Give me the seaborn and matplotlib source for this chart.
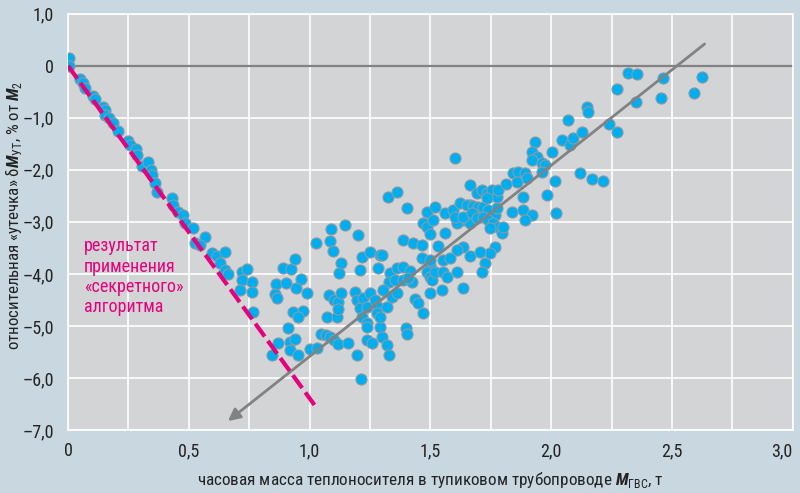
import matplotlib
matplotlib.use("Agg")
import matplotlib.pyplot as plt
import seaborn as sns
import pandas as pd
from matplotlib import font_manager
from matplotlib.ticker import FixedLocator, FixedFormatter, MultipleLocator

# points along the descending branch (before the "secret" correction)
mass_left = [0.004, 0.004, 0.050, 0.062, 0.070, 0.103, 0.112, 0.145, 0.153, 0.153,
             0.170, 0.186, 0.207, 0.248, 0.257, 0.281, 0.285, 0.306, 0.331, 0.343,
             0.348, 0.360, 0.368, 0.430, 0.434, 0.455, 0.476, 0.484, 0.517, 0.525,
             0.567, 0.546, 0.596, 0.616, 0.650, 0.629, 0.650, 0.720, 0.741, 0.720,
             0.761, 0.712, 0.761, 0.662, 0.765]
leak_left = [0.15, 0.00, -0.25, -0.33, -0.42, -0.58, -0.63, -0.79, -0.85, -0.94,
             -1.00, -1.10, -1.25, -1.44, -1.52, -1.60, -1.71, -1.92, -1.85, -2.00,
             -2.10, -2.25, -2.42, -2.54, -2.67, -2.81, -2.87, -3.02, -3.12, -3.40,
             -3.29, -3.44, -3.60, -3.65, -3.58, -3.79, -3.92, -3.96, -3.90, -4.12,
             -4.15, -4.31, -4.35, -4.00, -4.73]

# main cloud
mass_cloud = [0.861, 0.856, 0.865, 0.890, 0.923, 0.939, 0.902, 0.964, 0.943, 0.989,
              0.931, 0.972, 0.952, 0.910, 0.869, 0.844, 0.918, 0.939, 0.918, 0.952,
              1.001, 1.030, 1.047, 1.067, 1.084, 1.101, 1.117, 1.158, 1.196, 1.212,
              1.026, 1.084, 1.096, 1.088, 1.146, 1.200, 1.324, 1.361, 1.403, 1.130,
              1.121, 1.080, 1.101, 1.117, 1.130, 1.072, 1.113, 1.117, 1.187, 1.196,
              1.208, 1.216, 1.216, 1.249, 1.291, 1.208, 1.283, 1.220, 1.237, 1.249,
              1.270, 1.283, 1.278, 1.237, 1.237, 1.291, 1.299, 1.320, 1.328, 1.237,
              1.258, 1.332, 1.361, 1.386, 1.415, 1.328, 1.353, 1.386, 1.423, 1.303,
              1.340, 1.361, 1.320, 1.291, 1.398, 1.403, 1.436, 1.448, 1.469, 1.498,
              1.386, 1.427, 1.465, 1.465, 1.498, 1.485, 1.518, 1.469, 1.485, 1.498,
              1.560, 1.560, 1.531, 1.485, 1.498, 1.506, 1.518, 1.551, 1.551, 1.580,
              1.568, 1.609, 1.634, 1.663, 1.634, 1.593, 1.622, 1.663, 1.692, 1.663,
              1.692, 1.634, 1.609, 1.663, 1.601, 1.299, 1.407, 1.498, 1.547, 1.510,
              1.601, 1.651, 1.676, 1.696, 1.717, 1.738, 1.767, 1.775, 1.634, 1.671,
              1.692, 1.717, 1.738, 1.758, 1.779, 1.746, 1.796, 1.800, 1.767, 1.746,
              1.725, 1.713, 1.705, 1.609, 1.713, 1.734, 1.754, 1.775, 1.779, 1.734,
              1.882, 1.982, 1.837, 1.882, 1.920, 1.891, 2.019, 1.932, 1.920, 1.940,
              1.920, 1.961, 2.002, 1.974, 1.961, 1.841, 1.862, 1.891, 1.858, 1.899,
              1.812, 2.015, 2.118, 2.168, 2.213, 2.044, 2.077, 2.089, 2.127, 2.069,
              2.238, 2.271, 2.317, 2.354, 2.462, 2.623, 2.271, 2.350, 2.453, 2.590,
              2.147, 2.151]
leak_cloud = [-4.19, -4.38, -4.46, -3.88, -3.90, -3.71, -4.17, -4.10, -4.27, -4.37,
              -4.73, -4.71, -4.83, -5.04, -5.33, -5.56, -5.31, -5.25, -5.46, -5.56,
              -5.44, -5.42, -5.15, -5.17, -5.21, -5.27, -5.35, -5.33, -5.56, -6.02,
              -3.40, -3.37, -3.56, -3.13, -3.06, -3.25, -2.52, -2.42, -2.73, -3.79,
              -3.98, -4.40, -4.50, -4.54, -4.37, -4.83, -4.83, -4.67, -4.35, -4.50,
              -4.65, -4.83, -3.67, -3.58, -3.63, -3.92, -3.88, -4.46, -4.63, -4.37,
              -4.50, -4.63, -4.75, -4.94, -5.02, -5.02, -5.21, -5.37, -5.56, -5.27,
              -5.33, -3.98, -3.88, -3.87, -3.94, -4.15, -4.12, -4.12, -4.15, -4.31,
              -4.44, -4.37, -4.63, -4.83, -5.04, -5.15, -4.48, -4.56, -4.75, -4.37,
              -3.35, -3.40, -3.44, -3.69, -3.83, -2.81, -2.71, -3.02, -3.10, -3.23,
              -2.83, -3.21, -3.46, -3.96, -4.06, -4.12, -3.96, -3.96, -3.73, -3.69,
              -4.06, -3.96, -3.48, -3.65, -4.27, -2.77, -2.63, -2.67, -2.81, -2.29,
              -2.44, -2.96, -3.02, -3.02, -1.77, -3.63, -4.08, -3.73, -4.31, -2.96,
              -2.90, -2.67, -2.69, -2.71, -2.71, -2.77, -2.87, -2.73, -2.90, -2.83,
              -2.92, -2.90, -2.96, -3.02, -3.10, -3.12, -3.21, -3.10, -3.48, -3.60,
              -3.79, -3.96, -3.58, -3.54, -2.38, -2.44, -2.38, -2.52, -2.38, -2.54,
              -2.52, -2.48, -2.81, -2.77, -2.87, -2.96, -2.83, -1.46, -1.65, -1.75,
              -1.81, -1.87, -1.65, -1.90, -2.04, -2.06, -2.04, -2.06, -2.23, -2.15,
              -2.27, -2.21, -2.06, -2.17, -2.21, -1.42, -1.52, -1.38, -1.27, -1.04,
              -1.12, -1.27, -0.13, -0.15, -0.23, -0.21, -0.44, -0.69, -0.62, -0.52,
              -0.79, -0.88]

secret_x = [0.0, 1.02]
secret_y = [0.0, -6.52]
trend_x = [2.635, 0.662]
trend_y = [0.42, -6.83]

x_ticks = [0, 0.5, 1.0, 1.5, 2.0, 2.5, 3.0]
x_labels = ["0", "0,5", "1,0", "1,5", "2,0", "2,5", "3,0"]
y_ticks = [1, 0, -1, -2, -3, -4, -5, -6, -7]
y_labels = ["1,0", "0", "–1,0", "–2,0", "–3,0", "–4,0", "–5,0", "–6,0", "–7,0"]

note_text = "результат\nприменения\n«секретного»\nалгоритма"

BG_FIG = "#c8d7e0"
BG_AX = "#d3d4d6"
POINT = "#00aeef"
MAGENTA = "#e5007d"
GRAY = "#828282"

# narrowest sans available (reference uses a condensed face)
have = {f.name for f in font_manager.fontManager.ttflist}
main_font = next((f for f in ["Roboto Condensed", "Liberation Sans Narrow",
                              "Roboto", "Liberation Sans"] if f in have), "DejaVu Sans")

sns.set_theme(style="whitegrid")
plt.rcParams["font.family"] = [main_font, "DejaVu Sans"]
plt.rcParams["mathtext.fontset"] = "custom"
plt.rcParams["mathtext.rm"] = main_font
plt.rcParams["mathtext.bf"] = main_font + ":italic:bold"

df = pd.DataFrame({"mass": mass_left + mass_cloud, "leak": leak_left + leak_cloud})

fig, ax = plt.subplots(figsize=(8, 4.93), dpi=100)
fig.patch.set_facecolor(BG_FIG)
ax.set_facecolor(BG_AX)
fig.subplots_adjust(left=0.085, right=0.991, top=0.972, bottom=0.128)

ax.axhline(0, color=GRAY, lw=1.6, zorder=2)
sns.scatterplot(data=df, x="mass", y="leak", ax=ax, color=POINT, s=64,
                edgecolor="#8d9ba6", linewidth=0.8, zorder=3)

sns.lineplot(x=secret_x, y=secret_y, ax=ax, color=MAGENTA, lw=3,
             dashes=False, zorder=5).lines[-1].set_dashes((3.8, 1.3))
ax.annotate("", xy=(trend_x[1], trend_y[1]), xytext=(trend_x[0], trend_y[0]),
            arrowprops=dict(arrowstyle="-|>", color=GRAY, lw=2,
                            mutation_scale=18, shrinkA=0, shrinkB=0),
            zorder=4)

ax.text(0.066, -3.3, note_text, color=MAGENTA, fontsize=13, va="top", ha="left",
        linespacing=1.15)

ax.set_xlim(0, 3)
ax.set_ylim(-7, 1)
ax.xaxis.set_major_locator(FixedLocator(x_ticks))
ax.xaxis.set_major_formatter(FixedFormatter(x_labels))
ax.xaxis.set_minor_locator(MultipleLocator(0.25))
ax.yaxis.set_major_locator(FixedLocator(y_ticks))
ax.yaxis.set_major_formatter(FixedFormatter(y_labels))
ax.grid(True, which="both", axis="x", color="white", lw=1.2)
ax.grid(True, which="major", axis="y", color="white", lw=1.2)
ax.tick_params(axis="both", which="both", length=0, labelsize=13, colors="#222222")
ax.tick_params(axis="x", pad=9)
ax.tick_params(axis="y", pad=10)
ax.get_xticklabels()[-1].set_ha("right")
for s in ax.spines.values():
    s.set_color("white")
    s.set_linewidth(1.2)

ax.set_xlabel("часовая масса теплоносителя в тупиковом трубопроводе $\\mathbf{M}_{\\mathrm{ГВС}}$, т",
              fontsize=12.3, color="#222222", labelpad=7)
ax.set_ylabel("относительная «утечка» δ$\\mathbf{M}_{\\mathrm{УТ}}$, % от $\\mathbf{M}_2$",
              fontsize=12.2, color="#222222")
ax.yaxis.set_label_coords(-0.061, 0.515)

fig.savefig("out.png", dpi=100, facecolor=BG_FIG)
